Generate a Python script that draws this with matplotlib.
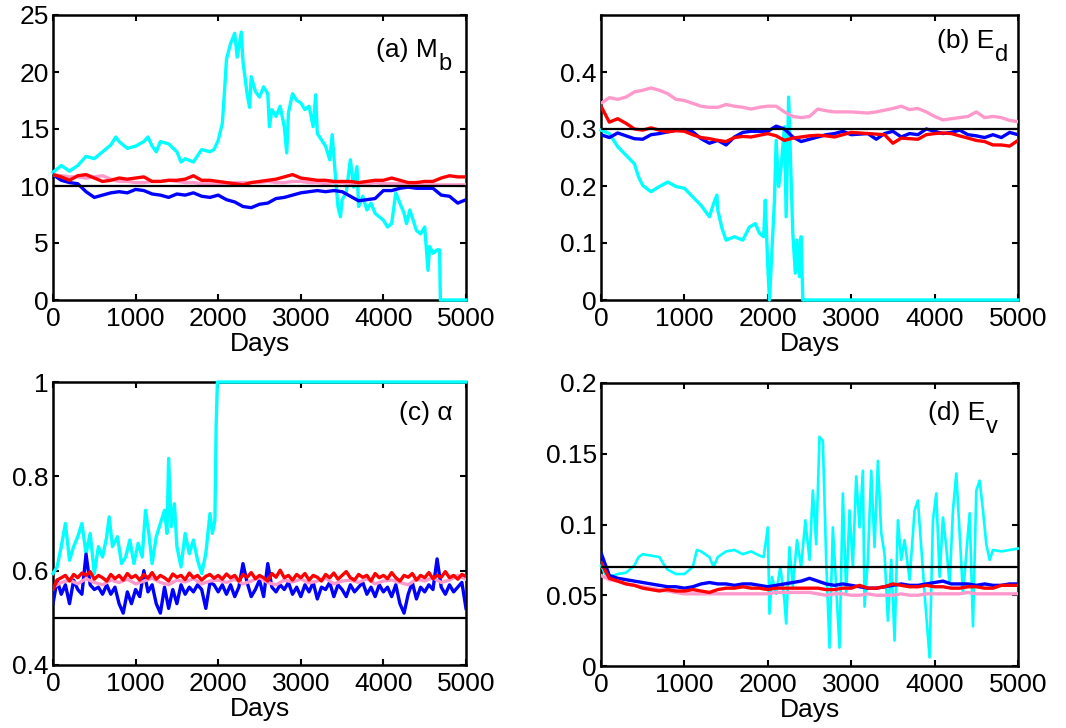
import numpy as np
import matplotlib
matplotlib.use("Agg")
import matplotlib.pyplot as plt
from matplotlib.ticker import FuncFormatter

plt.rcParams['font.family'] = ['Liberation Sans', 'DejaVu Sans']

# ---------------- Panel (a) M_b ----------------
a_cyan_x = [0, 100, 200, 300, 400, 500, 600, 700, 760, 800, 900, 1000, 1100, 1150, 1200, 1250,
            1300, 1400, 1500, 1550, 1600, 1700, 1800, 1900, 1950, 2000, 2050, 2080, 2100, 2150,
            2200, 2230, 2280, 2300, 2350, 2380, 2400, 2450, 2500, 2550, 2600, 2620, 2650, 2700,
            2750, 2800, 2830, 2850, 2900, 2950, 3000, 3050, 3100, 3150, 3180, 3200, 3300, 3350,
            3380, 3420, 3450, 3480, 3500, 3550, 3600, 3640, 3680, 3700, 3750, 3800, 3850, 3900,
            4000, 4050, 4100, 4150, 4200, 4250, 4280, 4320, 4400, 4450, 4500, 4540, 4560, 4600,
            4650, 4680, 4690, 5000]
a_cyan_y = [11.2, 11.8, 11.3, 11.8, 12.6, 12.4, 13.0, 13.6, 14.3, 13.9, 13.3, 13.5, 13.9, 14.3, 13.5, 13.0,
            13.9, 13.7, 13.0, 12.1, 12.4, 12.1, 13.2, 13.0, 13.2, 14.0, 15.5, 18.7, 21.1, 22.5,
            23.4, 21.3, 23.5, 20.9, 18.1, 16.9, 19.6, 18.3, 17.8, 18.7, 18.1, 15.2, 16.7, 16.1,
            17.0, 15.2, 12.9, 16.4, 18.1, 17.5, 17.3, 16.7, 17.0, 15.2, 18.0, 14.6, 13.5, 12.3,
            14.5, 10.8, 8.2, 7.3, 8.8, 9.4, 12.3, 9.9, 11.7, 8.2, 9.1, 7.9, 8.5, 7.6,
            7.0, 6.4, 6.7, 9.4, 8.5, 7.6, 6.7, 7.9, 6.1, 5.8, 6.4, 2.6, 4.7, 4.1,
            4.4, 4.4, 0.0, 0.0]
a_red = [11.0, 10.8, 10.5, 10.9, 11.0, 10.7, 10.4, 10.5, 10.7, 10.6,
         10.7, 10.8, 10.4, 10.4, 10.5, 10.5, 10.6, 10.9, 10.5, 10.5,
         10.4, 10.3, 10.2, 10.1, 10.3, 10.4, 10.5, 10.6, 10.8, 11.0,
         10.7, 10.6, 10.5, 10.5, 10.4, 10.4, 10.4, 10.3, 10.4, 10.5,
         10.5, 10.7, 10.5, 10.3, 10.3, 10.4, 10.4, 10.7, 10.9, 10.8, 10.8]
a_pink = [11.0, 10.9, 10.8, 10.8, 10.7, 10.8, 10.9, 10.6, 10.4, 10.4,
          10.3, 10.3, 10.4, 10.4, 10.5, 10.4, 10.3, 10.3, 10.2, 10.2,
          10.2, 10.2, 10.3, 10.3, 10.3, 10.3, 10.4, 10.3, 10.3, 10.4,
          10.4, 10.3, 10.3, 10.2, 10.3, 10.3, 10.2, 10.2, 10.2, 10.3,
          10.2, 10.2, 10.2, 10.2, 10.1, 10.1, 10.1, 10.1, 10.1, 10.1, 10.1]
a_blue = [11.0, 10.5, 10.3, 10.2, 9.5, 9.0, 9.2, 9.4, 9.5, 9.4,
          9.7, 9.6, 9.3, 9.2, 9.0, 9.3, 9.2, 9.4, 9.1, 9.0,
          9.2, 8.8, 8.6, 8.2, 8.1, 8.4, 8.5, 8.9, 9.0, 9.2,
          9.4, 9.5, 9.6, 9.5, 9.6, 9.5, 9.1, 8.7, 8.8, 8.9,
          9.6, 9.6, 9.8, 9.9, 9.8, 9.8, 9.8, 9.2, 9.1, 8.5, 8.8]
a_ref = 10.0

# ---------------- Panel (b) E_d ----------------
b_cyan_x = [0, 100, 200, 300, 400, 450, 500, 600, 700, 800, 900, 1000, 1100, 1200, 1300, 1350,
            1390, 1400, 1450, 1500, 1600, 1700, 1780, 1850, 1900, 1950, 1970, 2000, 2020, 2050,
            2080, 2100, 2130, 2160, 2200, 2220, 2250, 2280, 2300, 2330, 2350, 2380, 2400, 2420,
            2430, 5000]
b_cyan_y = [0.298, 0.292, 0.269, 0.254, 0.239, 0.216, 0.201, 0.190, 0.199, 0.207, 0.199, 0.196,
            0.181, 0.166, 0.146, 0.169, 0.184, 0.158, 0.126, 0.105, 0.111, 0.105, 0.128, 0.134,
            0.117, 0.111, 0.175, 0.058, 0.0, 0.088, 0.175, 0.280, 0.199, 0.234, 0.304, 0.146,
            0.356, 0.210, 0.117, 0.047, 0.105, 0.041, 0.111, 0.0, 0.0, 0.0]
b_red = [0.340, 0.312, 0.318, 0.310, 0.300, 0.298, 0.302, 0.298, 0.295, 0.297,
         0.296, 0.290, 0.285, 0.283, 0.280, 0.278, 0.285, 0.287, 0.286, 0.289,
         0.292, 0.288, 0.280, 0.284, 0.286, 0.288, 0.289, 0.288, 0.286, 0.290,
         0.294, 0.293, 0.292, 0.291, 0.290, 0.275, 0.284, 0.283, 0.282, 0.290,
         0.292, 0.293, 0.292, 0.288, 0.284, 0.280, 0.278, 0.272, 0.272, 0.270, 0.280]
b_pink = [0.345, 0.355, 0.352, 0.356, 0.365, 0.368, 0.372, 0.368, 0.362, 0.352,
          0.350, 0.345, 0.340, 0.338, 0.338, 0.343, 0.340, 0.338, 0.335, 0.338,
          0.340, 0.340, 0.330, 0.322, 0.320, 0.322, 0.335, 0.332, 0.330, 0.330,
          0.330, 0.329, 0.328, 0.330, 0.333, 0.336, 0.340, 0.334, 0.336, 0.330,
          0.322, 0.316, 0.318, 0.320, 0.322, 0.330, 0.320, 0.322, 0.320, 0.315, 0.313]
b_blue = [0.290, 0.285, 0.293, 0.288, 0.283, 0.282, 0.290, 0.292, 0.295, 0.298,
          0.299, 0.295, 0.283, 0.275, 0.280, 0.272, 0.286, 0.294, 0.296, 0.296,
          0.296, 0.305, 0.300, 0.286, 0.278, 0.282, 0.286, 0.290, 0.292, 0.296,
          0.290, 0.291, 0.292, 0.282, 0.292, 0.296, 0.286, 0.292, 0.290, 0.300,
          0.296, 0.292, 0.294, 0.298, 0.290, 0.288, 0.285, 0.290, 0.285, 0.294, 0.290]
b_ref = 0.3

# ---------------- Panel (c) alpha ----------------
c_cyan_x = [0, 50, 100, 150, 200, 250, 300, 350, 400, 450, 500, 550, 600, 650, 680, 720, 780,
            830, 880, 930, 980, 1030, 1080, 1120, 1160, 1200, 1250, 1300, 1350, 1380, 1400, 1430,
            1470, 1500, 1550, 1600, 1650, 1700, 1750, 1800, 1850, 1900, 1930, 1960, 1975, 1990, 5000]
c_cyan_y = [0.594, 0.608, 0.651, 0.700, 0.622, 0.651, 0.672, 0.700, 0.636, 0.679, 0.594, 0.651,
            0.629, 0.672, 0.714, 0.651, 0.672, 0.615, 0.629, 0.665, 0.615, 0.658, 0.629, 0.728,
            0.679, 0.615, 0.672, 0.700, 0.728, 0.679, 0.838, 0.693, 0.742, 0.651, 0.608, 0.679,
            0.636, 0.665, 0.622, 0.594, 0.636, 0.721, 0.679, 0.707, 0.905, 1.0, 1.0]
c_red = [0.56, 0.58, 0.585, 0.59, 0.578, 0.592, 0.585, 0.595, 0.59, 0.598,
         0.582, 0.59, 0.585, 0.578, 0.592, 0.583, 0.59, 0.58, 0.594, 0.585,
         0.59, 0.58, 0.592, 0.584, 0.596, 0.582, 0.59, 0.585, 0.578, 0.593,
         0.586, 0.59, 0.581, 0.595, 0.585, 0.59, 0.58, 0.588, 0.592, 0.584,
         0.59, 0.582, 0.593, 0.585, 0.59, 0.578, 0.592, 0.586, 0.596, 0.583,
         0.59, 0.585, 0.578, 0.594, 0.586, 0.601, 0.585, 0.59, 0.58, 0.592,
         0.585, 0.594, 0.58, 0.59, 0.586, 0.578, 0.592, 0.585, 0.595, 0.582,
         0.59, 0.598, 0.585, 0.58, 0.592, 0.586, 0.59, 0.578, 0.594, 0.585,
         0.59, 0.583, 0.596, 0.585, 0.578, 0.59, 0.586, 0.594, 0.58, 0.59,
         0.585, 0.596, 0.583, 0.59, 0.586, 0.598, 0.585, 0.59, 0.582, 0.592, 0.588]
c_pink = [0.565, 0.575, 0.58, 0.572, 0.583, 0.575, 0.57, 0.58, 0.575, 0.582,
          0.572, 0.578, 0.584, 0.575, 0.57, 0.58, 0.576, 0.583, 0.572, 0.578,
          0.58, 0.575, 0.582, 0.572, 0.578, 0.585, 0.575, 0.57, 0.58, 0.576,
          0.582, 0.574, 0.578, 0.584, 0.572, 0.578, 0.58, 0.575, 0.583, 0.572,
          0.578, 0.58, 0.575, 0.57, 0.582, 0.578, 0.585, 0.575, 0.58, 0.59, 0.582]
c_blue = [0.53, 0.58, 0.55, 0.57, 0.53, 0.58, 0.56, 0.55, 0.635, 0.57,
          0.56, 0.565, 0.55, 0.57, 0.55, 0.565, 0.53, 0.51, 0.555, 0.53,
          0.56, 0.545, 0.60, 0.555, 0.57, 0.53, 0.51, 0.565, 0.52, 0.56,
          0.53, 0.57, 0.55, 0.565, 0.555, 0.57, 0.56, 0.52, 0.575, 0.57,
          0.555, 0.57, 0.55, 0.57, 0.545, 0.565, 0.615, 0.575, 0.545, 0.56,
          0.58, 0.545, 0.615, 0.565, 0.555, 0.57, 0.56, 0.575, 0.55, 0.565,
          0.545, 0.57, 0.555, 0.575, 0.54, 0.565, 0.56, 0.575, 0.545, 0.57,
          0.56, 0.545, 0.57, 0.555, 0.565, 0.575, 0.55, 0.565, 0.545, 0.57,
          0.555, 0.565, 0.545, 0.57, 0.53, 0.51, 0.55, 0.575, 0.54, 0.565,
          0.555, 0.57, 0.56, 0.625, 0.565, 0.55, 0.57, 0.555, 0.565, 0.575, 0.52]
c_ref = 0.5

# ---------------- Panel (d) E_v ----------------
d_cyan_x = [0, 50, 100, 200, 300, 400, 450, 500, 600, 700, 750, 800, 900, 1000, 1100, 1150,
            1200, 1300, 1350, 1400, 1500, 1600, 1700, 1800, 1900, 1950, 2000, 2020, 2050, 2100,
            2150, 2200, 2220, 2260, 2300, 2350, 2400, 2450, 2500, 2540, 2580, 2620, 2660, 2700,
            2740, 2780, 2820, 2860, 2900, 2940, 2980, 3020, 3060, 3100, 3140, 3160, 3200, 3240,
            3280, 3320, 3360, 3400, 3440, 3480, 3520, 3560, 3600, 3640, 3700, 3760, 3800, 3840,
            3880, 3940, 3980, 4020, 4060, 4100, 4140, 4180, 4220, 4260, 4300, 4340, 4380, 4420,
            4460, 4500, 4540, 4580, 4620, 4660, 4700, 4800, 4900, 5000]
d_cyan_y = [0.071, 0.065, 0.063, 0.065, 0.066, 0.071, 0.077, 0.079, 0.078, 0.077, 0.072, 0.068,
            0.065, 0.065, 0.070, 0.082, 0.081, 0.077, 0.070, 0.077, 0.081, 0.082, 0.079, 0.081,
            0.078, 0.077, 0.098, 0.037, 0.063, 0.051, 0.070, 0.046, 0.030, 0.084, 0.056, 0.089,
            0.070, 0.103, 0.075, 0.124, 0.086, 0.162, 0.159, 0.075, 0.013, 0.098, 0.056, 0.013,
            0.122, 0.051, 0.110, 0.070, 0.134, 0.098, 0.138, 0.042, 0.075, 0.138, 0.084, 0.145,
            0.094, 0.079, 0.032, 0.075, 0.018, 0.103, 0.075, 0.089, 0.061, 0.110, 0.117, 0.084,
            0.051, 0.006, 0.103, 0.122, 0.063, 0.105, 0.084, 0.058, 0.110, 0.136, 0.094, 0.051,
            0.079, 0.108, 0.028, 0.124, 0.131, 0.110, 0.086, 0.075, 0.082, 0.081, 0.082, 0.083]
d_red = [0.073, 0.062, 0.060, 0.058, 0.057, 0.055, 0.054, 0.053, 0.054, 0.053,
         0.053, 0.054, 0.053, 0.052, 0.054, 0.055, 0.055, 0.056, 0.055, 0.055,
         0.054, 0.055, 0.055, 0.055, 0.055, 0.055, 0.055, 0.054, 0.054, 0.055,
         0.055, 0.057, 0.055, 0.055, 0.056, 0.058, 0.057, 0.056, 0.056, 0.057,
         0.056, 0.056, 0.055, 0.055, 0.056, 0.056, 0.055, 0.055, 0.057, 0.057, 0.057]
d_pink = [0.064, 0.061, 0.060, 0.058, 0.057, 0.056, 0.055, 0.054, 0.053, 0.052,
          0.051, 0.051, 0.051, 0.051, 0.051, 0.051, 0.051, 0.051, 0.051, 0.051,
          0.051, 0.052, 0.052, 0.052, 0.052, 0.052, 0.051, 0.050, 0.051, 0.051,
          0.050, 0.050, 0.051, 0.050, 0.050, 0.050, 0.051, 0.050, 0.050, 0.051,
          0.051, 0.051, 0.051, 0.051, 0.052, 0.051, 0.051, 0.051, 0.051, 0.051, 0.051]
d_blue = [0.080, 0.064, 0.062, 0.061, 0.060, 0.059, 0.058, 0.057, 0.056, 0.056,
          0.055, 0.056, 0.058, 0.059, 0.058, 0.058, 0.057, 0.058, 0.058, 0.057,
          0.056, 0.057, 0.058, 0.059, 0.060, 0.062, 0.060, 0.058, 0.057, 0.058,
          0.057, 0.056, 0.055, 0.055, 0.056, 0.057, 0.058, 0.057, 0.057, 0.058,
          0.059, 0.060, 0.058, 0.058, 0.058, 0.057, 0.058, 0.057, 0.057, 0.058, 0.058]
d_ref = 0.07

# ---------------- Axes settings ----------------
x_ticks = [0, 1000, 2000, 3000, 4000, 5000]
a_yticks = [0, 5, 10, 15, 20, 25]
b_yticks = [0, 0.1, 0.2, 0.3, 0.4]
c_yticks = [0.4, 0.6, 0.8, 1.0]
d_yticks = [0, 0.05, 0.1, 0.15, 0.2]

C_CYAN = '#00ffff'
C_RED = '#ff0000'
C_PINK = '#ff99cc'
C_BLUE = '#0000ff'

FS = 19

fig = plt.figure(figsize=(10.66, 7.28), dpi=100)
positions = {
    'a': [53 / 1066, 1 - 300 / 728, 413 / 1066, 285 / 728],
    'b': [601 / 1066, 1 - 300 / 728, 417 / 1066, 285 / 728],
    'c': [53 / 1066, 1 - 665 / 728, 413 / 1066, 283 / 728],
    'd': [601 / 1066, 1 - 666 / 728, 417 / 1066, 283 / 728],
}

fmt = FuncFormatter(lambda v, p: ('%g' % round(v, 4)))


def grid_x(vals):
    return np.linspace(0, 5000, len(vals))


def draw(ax, cx, cy, blue, pink, red, ref, ylim, yticks, main, sub, lx, ly, lw_c=2.4):
    ax.plot(cx, cy, color=C_CYAN, lw=lw_c, zorder=2.6, clip_on=False)
    ax.plot(grid_x(blue), blue, color=C_BLUE, lw=2.4, zorder=3)
    ax.plot(grid_x(pink), pink, color=C_PINK, lw=2.4, zorder=4)
    ax.plot(grid_x(red), red, color=C_RED, lw=2.4, zorder=5)
    ax.axhline(ref, color='black', lw=1.6, zorder=6)
    ax.set_xlim(0, 5000)
    ax.set_ylim(*ylim)
    ax.set_xticks(x_ticks)
    ax.set_yticks(yticks)
    ax.yaxis.set_major_formatter(fmt)
    ax.tick_params(direction='in', length=4, width=1.5, labelsize=FS, pad=3,
                   top=True, right=True)
    ax.tick_params(axis='x', pad=5)
    for s in ax.spines.values():
        s.set_linewidth(1.8)
    ax.set_xlabel('Days', fontsize=FS, labelpad=1)
    t = ax.text(lx, ly, main, transform=ax.transAxes, ha='left', va='baseline', fontsize=FS)
    if sub:
        ax.annotate(sub, xy=(1, 0), xycoords=t, xytext=(0.5, -6), textcoords='offset points',
                    ha='left', va='baseline', fontsize=FS - 2)


ax_a = fig.add_axes(positions['a'])
draw(ax_a, a_cyan_x, a_cyan_y, a_blue, a_pink, a_red, a_ref, (0, 25), a_yticks,
     '(a) M', 'b', 0.782, 0.853)
ax_b = fig.add_axes(positions['b'])
draw(ax_b, b_cyan_x, b_cyan_y, b_blue, b_pink, b_red, b_ref, (0, 0.5), b_yticks,
     '(b) E', 'd', 0.806, 0.884)
ax_c = fig.add_axes(positions['c'])
draw(ax_c, c_cyan_x, c_cyan_y, c_blue, c_pink, c_red, c_ref, (0.4, 1.0), c_yticks,
     '(c) α', None, 0.838, 0.866)
ax_d = fig.add_axes(positions['d'])
draw(ax_d, d_cyan_x, d_cyan_y, d_blue, d_pink, d_red, d_ref, (0, 0.2), d_yticks,
     '(d) E', 'v', 0.784, 0.869, lw_c=1.9)

fig.savefig('out.png', dpi=100)
